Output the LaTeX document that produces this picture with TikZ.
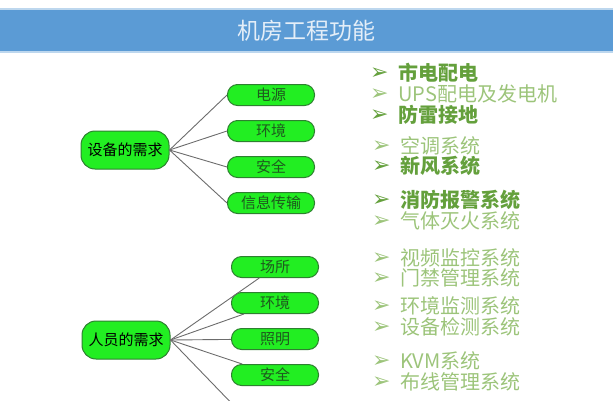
\documentclass[tikz,border=0pt]{standalone}
\usepackage{fontspec}
\setmainfont{Noto Sans CJK SC}
\newfontfamily\symfont{DejaVu Sans}
\usetikzlibrary{positioning}
\definecolor{barblue}{HTML}{5B9BD5}
\definecolor{barline}{HTML}{BDD7EE}
\definecolor{titletext}{HTML}{E4EEF8}
\definecolor{boxfill}{HTML}{22EE22}
\definecolor{boxline}{HTML}{2E8030}
\definecolor{boxtext}{HTML}{1E5A1E}
\definecolor{itemdark}{HTML}{64A03C}
\definecolor{itemlight}{HTML}{9CC47A}
\tikzstyle{link} = [draw=gray!85!black,line width=0.9pt]
\newcommand{\bul}{\makebox[28pt][l]{\raisebox{1pt}{\symfont\fontsize{22}{22}\selectfont ➢}}}

\begin{document}
\begin{tikzpicture} [
    x=1pt,y=-1pt,
    need/.style={rectangle,draw=boxline,line width=1pt,fill=boxfill,rounded corners=14pt,
      minimum width=88pt,minimum height=38pt,inner sep=0pt,font=\fontsize{15}{15}\selectfont},
    part/.style={rectangle,draw=boxline,line width=1pt,fill=boxfill,rounded corners=10pt,
      minimum width=87pt,minimum height=21pt,inner sep=0pt,text=boxtext,font=\fontsize{15}{15}\selectfont},
    itm/.style={anchor=west,inner sep=0pt,font=\fontsize{20}{20}\selectfont},
    hi/.style={itm,text=itemdark,font=\fontsize{20}{20}\selectfont\bfseries},
    lo/.style={itm,text=itemlight},
    ]
    \useasboundingbox (0,0) rectangle (613,400);

    % title bar
    \fill[barblue] (0,9) rectangle (613,52);
    \draw[barline,line width=1.2pt] (0,9) -- (613,9) (0,52) -- (613,52);
    \node[text=titletext,font=\fontsize{23}{23}\selectfont] (T) at (306,31) {机房工程功能};

    % equipment needs
    \node [need] (E) at (125,150) {设备的需求};
    \path (E) ++(146,-55) node [part] (E1) {电源};
    \path (E) ++(146,-19) node [part] (E2) {环境};
    \path (E) ++(146,17)  node [part] (E3) {安全};
    \path (E) ++(146,53)  node [part] (E4) {信息传输};

    % personnel needs
    \node [need] (P) at (126,340) {人员的需求};
    \path (P) ++(149,-73) node [part] (P1) {场所};
    \path (P) ++(149,-37) node [part] (P2) {环境};
    \path (P) ++(149,-1)  node [part] (P3) {照明};
    \path (P) ++(149,35)  node [part] (P4) {安全};
    \coordinate (P5) at (240,412);

    \foreach \c in {E1,E2,E3,E4}
        \draw[link] (E.east) -- (\c.west);
    \begin{scope}
        \clip (0,0) rectangle (613,400);
        \foreach \c in {P1,P2,P3,P4,P5}
            \draw[link] (P.east) -- (\c);
    \end{scope}

    % functions list
    \node [hi] (L1)  at (370,73)  {\bul 市电配电};
    \node [lo] (L2)  at (370,94)  {\bul UPS配电及发电机};
    \node [hi] (L3)  at (370,115) {\bul 防雷接地};
    \node [lo] (L4)  at (372,146) {\bul 空调系统};
    \node [hi] (L5)  at (372,166) {\bul 新风系统};
    \node [hi] (L6)  at (372,200) {\bul 消防报警系统};
    \node [lo] (L7)  at (372,221) {\bul 气体灭火系统};
    \node [lo] (L8)  at (372,258) {\bul 视频监控系统};
    \node [lo] (L9)  at (372,278) {\bul 门禁管理系统};
    \node [lo] (L10) at (372,306) {\bul 环境监测系统};
    \node [lo] (L11) at (372,327) {\bul 设备检测系统};
    \node [lo] (L12) at (372,361) {\bul KVM系统};
    \node [lo] (L13) at (372,382) {\bul 布线管理系统};
\end{tikzpicture}
\end{document}
